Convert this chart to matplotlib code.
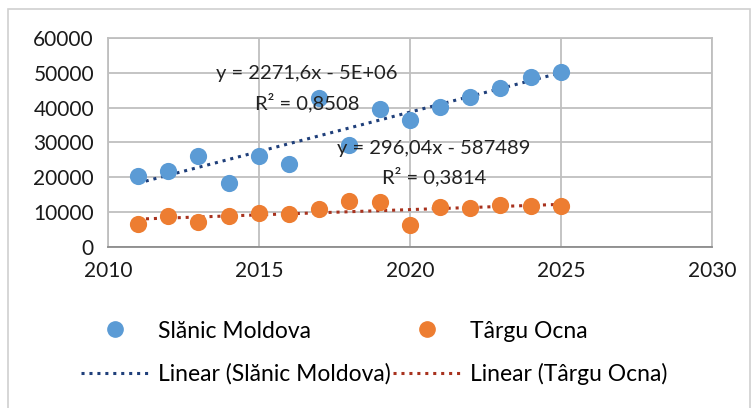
import matplotlib.pyplot as plt
import numpy as np
from matplotlib.lines import Line2D
from matplotlib.patches import Rectangle

plt.rcParams["font.family"] = ["Lato", "DejaVu Sans"]

years = [2011, 2012, 2013, 2014, 2015, 2016, 2017, 2018,
         2019, 2020, 2021, 2022, 2023, 2024, 2025]
slanic = [20300, 21800, 26000, 18300, 26200, 23700, 42700, 29300,
          39600, 36300, 40300, 43000, 45600, 48900, 50300]
targu = [6600, 8900, 7000, 8900, 9800, 9400, 10900, 13200,
         12800, 6300, 11300, 11100, 11900, 11600, 11600]

series_names = ["Slănic Moldova", "Târgu Ocna"]
equations = ["y = 2271,6x - 5E+06\nR² = 0,8508",
             "y = 296,04x - 587489\nR² = 0,3814"]

BLUE = "#5B9BD5"
ORANGE = "#ED7D31"
BLUE_TREND = "#1F3F7A"
ORANGE_TREND = "#A8321E"


def main() -> None:
    fig = plt.figure(figsize=(7.54, 4.08), dpi=100)
    fig.patches.append(Rectangle((0.01, -0.02), 0.985, 0.998, transform=fig.transFigure,
                                 fill=False, edgecolor="#D0D0D0", linewidth=1.2))
    ax = fig.add_axes([0.143, 0.395, 0.801, 0.512])

    x = np.array(years, dtype=float)
    for values, color, tcolor in [
        (slanic, BLUE, BLUE_TREND),
        (targu, ORANGE, ORANGE_TREND),
    ]:
        ax.scatter(years, values, s=125, color=color, edgecolor=color,
                   linewidths=1.2, zorder=3)
        coef = np.polyfit(x, values, 1)
        fit = np.polyval(coef, x)
        ax.plot(years, fit, linestyle=(0, (1, 1.6)), color=tcolor,
                linewidth=2.2, zorder=2)

    ax.text(2016.6, 45400, equations[0], ha="center", va="center",
            fontsize=14.5, linespacing=1.6, color="#222222", zorder=4)
    ax.text(2020.8, 24100, equations[1], ha="center", va="center",
            fontsize=14.5, linespacing=1.6, color="#222222", zorder=4)

    ax.set_xlim(2010, 2030)
    ax.set_ylim(0, 60000)
    ax.set_xticks([2010, 2015, 2020, 2025, 2030])
    ax.set_yticks(range(0, 60001, 10000))
    ax.grid(True, color="#BFBFBF", linewidth=1.3)
    ax.set_axisbelow(True)
    for spine in ax.spines.values():
        spine.set_color("#BFBFBF")
        spine.set_linewidth(1.3)
    ax.spines["bottom"].set_color("#8C8C8C")
    ax.tick_params(length=0, labelsize=15, pad=10, colors="#1A1A1A")

    handles = [
        Line2D([], [], marker="o", linestyle="none", markersize=11,
               color=BLUE, label=series_names[0]),
        Line2D([], [], linestyle=(0, (1, 1.6)), linewidth=2.2, color=BLUE_TREND,
               label=f"Linear ({series_names[0]})"),
        Line2D([], [], marker="o", linestyle="none", markersize=11,
               color=ORANGE, label=series_names[1]),
        Line2D([], [], linestyle=(0, (1, 1.6)), linewidth=2.2, color=ORANGE_TREND,
               label=f"Linear ({series_names[1]})"),
    ]
    fig.legend(handles=handles, ncol=2, loc="upper left",
               bbox_to_anchor=(0.08, 0.265), frameon=False, fontsize=16.5,
               handlelength=3.0, handletextpad=0.35, columnspacing=0.1,
               labelspacing=0.95)

    fig.savefig("out.png", dpi=100)
    plt.close(fig)


if __name__ == "__main__":
    main()
